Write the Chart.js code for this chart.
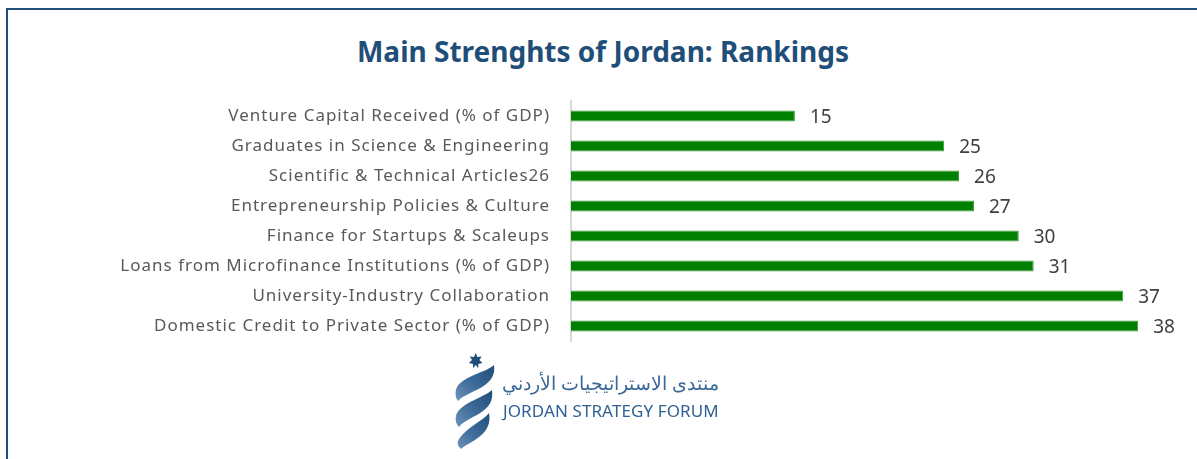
<!DOCTYPE html>
<html lang="en">
<head>
    <meta charset="UTF-8">
    <title>Main Strenghts of Jordan: Rankings</title>
    <script src="https://cdn.jsdelivr.net/npm/chart.js"></script>
    <style>
        body {
            margin: 0;
            background-color: #fff;
            font-family: "Noto Sans", Arial, sans-serif;
        }
        .frame {
            position: absolute;
            left: 6px;
            top: 8px;
            width: 1189px;
            height: 460px;
            border-left: 2px solid #1f4e79;
            border-top: 2px solid #1f4e79;
            border-right: 1px solid #dfe3e8;
        }
        .chart-title {
            position: absolute;
            left: 0;
            width: 1206px;
            top: 32px;
            margin: 0;
            text-align: center;
            color: #1f4e79;
            font-size: 28px;
            font-weight: bold;
        }
        #myChart {
            position: absolute;
            left: 0;
            top: 0;
        }
        .logo {
            position: absolute;
            left: 445px;
            top: 345px;
        }
        .logo-ar {
            position: absolute;
            left: 500px;
            top: 370px;
            width: 219px;
            text-align: right;
            color: #3a6896;
            font-size: 19px;
            direction: rtl;
        }
        .logo-en {
            position: absolute;
            left: 503px;
            top: 399px;
            color: #2f6194;
            font-size: 17px;
            letter-spacing: 0.1px;
        }
    </style>
</head>
<body>
    <div class="frame"></div>
    <h2 class="chart-title">Main Strenghts of Jordan: Rankings</h2>
    <canvas id="myChart" width="1197" height="459"></canvas>

    <svg class="logo" width="60" height="110" viewBox="0 0 60 110">
        <defs>
            <linearGradient id="rib" x1="0" y1="1" x2="1" y2="0">
                <stop offset="0" stop-color="#6f93ba"/>
                <stop offset="0.45" stop-color="#3f6c9b"/>
                <stop offset="1" stop-color="#1f4e79"/>
            </linearGradient>
        </defs>
        <polygon fill="#1f4e79" points="30.7,8 32.4,11.9 36.6,11.4 34.4,15.1 37.5,18 33.3,18.9 33.3,23.2 30.7,20 28.1,23.2 28.1,18.9 23.9,18 27,15.1 24.8,11.4 29,11.9"/>
        <path d="M12 42 C20 30 40 28 49 20 C50 28 48 34 40 40 C32 46 18 50 13 56 C10 52 10 46 12 42 Z" fill="url(#rib)"/>
        <path d="M12 68 C20 56 40 52 47 45 C48 54 46 60 38 66 C30 72 18 76 14 82 C10 78 10 72 12 68 Z" fill="url(#rib)"/>
        <path d="M14 94 C22 82 38 76 44 68 C46 78 42 86 34 92 C28 97 20 100 16 104 C12 100 12 98 14 94 Z" fill="url(#rib)"/>
    </svg>
    <div class="logo-ar">منتدى الاستراتيجيات الأردني</div>
    <div class="logo-en">JORDAN STRATEGY FORUM</div>

    <script>
        const categories = [
            "Venture Capital Received (% of GDP)",
            "Graduates in Science & Engineering",
            "Scientific & Technical Articles26",
            "Entrepreneurship Policies & Culture",
            "Finance for Startups & Scaleups",
            "Loans from Microfinance Institutions (% of GDP)",
            "University-Industry Collaboration",
            "Domestic Credit to Private Sector (% of GDP)"
        ];
        const rankings = [15, 25, 26, 27, 30, 31, 37, 38];

        // spaced-out category labels like the original
        const labelSpacing = {
            id: 'labelSpacing',
            beforeDraw(chart) {
                chart.ctx.letterSpacing = '1px';
            }
        };

        // draws the number at the end of each bar
        const valueLabels = {
            id: 'valueLabels',
            afterDatasetsDraw(chart) {
                const c = chart.ctx;
                const meta = chart.getDatasetMeta(0);
                c.save();
                c.letterSpacing = '0px';
                c.fillStyle = '#404040';
                c.font = '19px "Noto Sans", Arial, sans-serif';
                c.textAlign = 'left';
                c.textBaseline = 'middle';
                meta.data.forEach((bar, i) => {
                    c.fillText(rankings[i], bar.x + 15, bar.y + 2);
                });
                c.restore();
            }
        };

        const ctx = document.getElementById('myChart').getContext('2d');
        const myChart = new Chart(ctx, {
            type: 'bar',
            data: {
                labels: categories,
                datasets: [{
                    data: rankings,
                    backgroundColor: '#008000',
                    borderColor: '#3c9c3c',
                    borderWidth: 1,
                    barPercentage: 0.36,
                    categoryPercentage: 1
                }]
            },
            options: {
                indexAxis: 'y',
                responsive: false,
                animation: false,
                layout: {
                    padding: { left: 0, top: 101, right: 29, bottom: 118 }
                },
                scales: {
                    x: {
                        display: false,
                        min: 0,
                        max: 40
                    },
                    y: {
                        grid: { display: false, drawTicks: false },
                        border: { display: true, color: '#d9d9d9', width: 2 },
                        ticks: {
                            color: '#595959',
                            padding: 21,
                            font: { family: '"Noto Sans", Arial, sans-serif', size: 17 }
                        },
                        afterFit(scale) {
                            scale.width = 571;
                        }
                    }
                },
                plugins: {
                    legend: { display: false },
                    tooltip: { enabled: false }
                }
            },
            plugins: [labelSpacing, valueLabels]
        });
    </script>
</body>
</html>
